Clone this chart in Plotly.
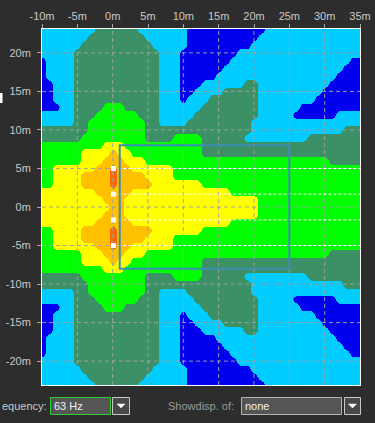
import plotly.graph_objects as go

# ---------------- data ----------------
x_cells = [-10, -9, -8, -7, -6, -5, -4, -3, -2, -1, 0, 1, 2, 3, 4, 5, 6, 7, 8, 9,
           10, 11, 12, 13, 14, 15, 16, 17, 18, 19, 20, 21, 22, 23, 24, 25, 26, 27,
           28, 29, 30, 31, 32, 33, 34, 35]
y_cells = [23, 22, 21, 20, 19, 18, 17, 16, 15, 14, 13, 12, 11, 10, 9, 8, 7, 6, 5, 4,
           3, 2, 1, 0, -1, -2, -3, -4, -5, -6, -7, -8, -9, -10, -11, -12, -13, -14,
           -15, -16, -17, -18, -19, -20, -21, -22, -23]

# SPL class per cell, run-length coded: letter = class, number = last x (m) of the run
map_rows = [
    "c-3 g3 c10 B21 c35",                    # 23
    "c-4 g4 c10 B20 c35",                    # 22
    "c-5 g5 c10 B19 c35",                    # 21
    "c-6 g6 c9 B17 c35",                     # 20
    "B-10 c-6 g6 c9 B16 c33 B35",            # 19
    "B-10 c-6 g6 c9 B15 c32 B35",            # 18
    "B-10 c-6 g6 c9 B14 c31 B35",            # 17
    "B-9 c-6 g6 c9 B12 c18 g20 c30 B35",     # 16
    "B-9 c-6 g6 c9 B11 c15 g20 c29 B35",     # 15
    "B-9 c-6 g6 c9 B10 c13 g20 c28 B35",     # 14
    "B-8 c-6 g-2 G1 g6 c12 g20 c26 B35",     # 13
    "c-6 g-3 G3 g6 c11 g20 c25 B31 c35",     # 12
    "c-6 g-4 G4 g6 c10 g19 c35",             # 11
    "g-4 G4 g19 c32 g35",                    # 10
    "g-5 G4 g8 G12 g18 c27 g35",             # 9
    "G-2 Y1 G12 g35",                        # 8
    "G-5 Y-1 o0 Y2 G12 g35",                 # 7
    "G-5 Y-2 o1 Y4 G30 g35",                 # 6
    "G-9 Y-3 o-1 r0 o2 Y8 G35",              # 5
    "G-9 Y-5 o-1 r0 o4 Y8 G35",              # 4
    "G-9 Y-5 o-1 r0 o5 Y12 G35",             # 3
    "Y-3 o2 Y16 G35",                        # 2
    "Y-2 o1 Y20 G35",                        # 1
    "Y-1 o1 Y20 G35",                        # 0
    "Y-2 o1 Y20 G35",                        # -1
    "Y-3 o2 Y16 G35",                        # -2
    "G-9 Y-5 o-1 r0 o5 Y12 G35",             # -3
    "G-9 Y-5 o-1 r0 o4 Y8 G35",              # -4
    "G-9 Y-3 o-1 r0 o2 Y8 G35",              # -5
    "G-5 Y-2 o1 Y4 G30 g35",                 # -6
    "G-5 Y-1 o0 Y2 G12 g35",                 # -7
    "G-2 Y1 G12 g35",                        # -8
    "g-5 G4 g8 G12 g18 c27 g35",             # -9
    "g-4 G4 g19 c32 g35",                    # -10
    "c-6 g-4 G4 g6 c10 g19 c35",             # -11
    "c-6 g-3 G3 g6 c11 g20 c25 B31 c35",     # -12
    "B-8 c-6 g-2 G1 g6 c12 g20 c26 B35",     # -13
    "B-9 c-6 g6 c9 B10 c13 g20 c28 B35",     # -14
    "B-9 c-6 g6 c9 B11 c15 g20 c29 B35",     # -15
    "B-9 c-6 g6 c9 B12 c18 g20 c30 B35",     # -16
    "B-10 c-6 g6 c9 B14 c31 B35",            # -17
    "B-10 c-6 g6 c9 B15 c32 B35",            # -18
    "B-10 c-6 g6 c9 B16 c33 B35",            # -19
    "c-6 g6 c9 B17 c35",                     # -20
    "c-5 g5 c10 B19 c35",                    # -21
    "c-4 g4 c10 B20 c35",                    # -22
    "c-3 g3 c10 B21 c35",                    # -23
]
level_codes = {"B": 0, "c": 1, "g": 2, "G": 3, "Y": 4, "o": 5, "r": 6}
level_colors = ["#0000EE", "#00CCFF", "#3C9066", "#00FF00", "#FFFF00", "#FFC000", "#FF6A00"]

x_ticks = [-10, -5, 0, 5, 10, 15, 20, 25, 30, 35]
x_tick_text = ["-10m", "-5m", "0m", "5m", "10m", "15m", "20m", "25m", "30m", "35m"]
y_ticks = [20, 15, 10, 5, 0, -5, -10, -15, -20]
y_tick_text = ["20m", "15m", "10m", "5m", "0m", "-5m", "-10m", "-15m", "-20m"]
x_range = [-10, 35]
y_range = [-23.1, 23.1]

speaker_x = [0.1, 0.1, 0.1, 0.1]
speaker_y = [5.0, 1.67, -1.67, -5.0]
area_x = [1.0, 25.0]
area_y = [-8.0, 8.0]

freq_label = "equency:"
freq_value = "63 Hz"
disp_label = "Showdisp. of:"
disp_value = "none"

# ---------------- build ----------------
def expand(row):
    vals = []
    for tok in row.split():
        code = level_codes[tok[0]]
        end = int(tok[1:])
        while len(vals) < len(x_cells) and x_cells[len(vals)] <= end:
            vals.append(code)
    assert len(vals) == len(x_cells), row
    return vals

z = [expand(r) for r in map_rows]
z_asc = z[::-1]
y_asc = y_cells[::-1]

n = len(level_colors)
colorscale = []
for i, c in enumerate(level_colors):
    colorscale.append([i / n, c])
    colorscale.append([(i + 1) / n, c])

fig = go.Figure()
fig.add_trace(go.Heatmap(
    x=x_cells, y=y_asc, z=z_asc, zsmooth="best",
    colorscale=colorscale, zmin=-0.5, zmax=n - 0.5,
    showscale=False, hoverinfo="skip"))

# dashed grid (drawn above the map)
gx, gy = [], []
for v in x_ticks:
    if x_range[0] < v < x_range[1]:
        gx += [v, v, None]
        gy += [y_range[0], y_range[1], None]
for v in y_ticks:
    gx += [x_range[0], x_range[1], None]
    gy += [v, v, None]
fig.add_trace(go.Scatter(x=gx, y=gy, mode="lines", hoverinfo="skip",
                         line=dict(color="rgba(160,160,160,0.95)", width=1, dash="4px,3px"),
                         showlegend=False))

# speaker aiming rays
rx, ry = [], []
for sx, sy in zip(speaker_x, speaker_y):
    rx += [sx, x_range[1], None]
    ry += [sy, sy, None]
fig.add_trace(go.Scatter(x=rx, y=ry, mode="lines", hoverinfo="skip",
                         line=dict(color="white", width=1, dash="3px,2px"),
                         showlegend=False))

fig.add_trace(go.Scatter(x=speaker_x, y=speaker_y, mode="markers", hoverinfo="skip",
                         marker=dict(symbol="square", size=5, color="white",
                                     line=dict(width=0)),
                         showlegend=False))

shapes = [dict(type="rect", xref="x", yref="y", x0=area_x[0], x1=area_x[1],
               y0=area_y[0], y1=area_y[1], line=dict(color="#3C8DB4", width=2),
               layer="above")]

# UI chrome below the plot (pixel helpers)
L, R, T, B = 42, 15, 29, 38
W, H = 375, 423
pw, ph = W - L - R, H - T - B
def px2x(px):
    return (px - L) / pw
def py2y(py):
    return (H - B - py) / ph

def rect(x0, x1, y0, y1, fill, line, lw=1):
    return dict(type="rect", xref="paper", yref="paper",
                x0=px2x(x0), x1=px2x(x1), y0=py2y(y1), y1=py2y(y0),
                fillcolor=fill, line=dict(color=line, width=lw), layer="above")

def tri(cx, cy):
    pts = [(cx - 4, cy - 2), (cx + 4, cy - 2), (cx, cy + 2)]
    path = "M " + " L ".join(f"{px2x(a)},{py2y(b)}" for a, b in pts) + " Z"
    return dict(type="path", xref="paper", yref="paper", path=path,
                fillcolor="white", line=dict(color="white", width=0.5), layer="above")

shapes += [
    rect(0, 2.5, 93, 103, "white", "white", 0),
    rect(50.5, 110.5, 397.5, 414.5, "#555555", "#33CC33"),
    rect(112.5, 129.5, 397.5, 414.5, "#484848", "#C8C8C8"),
    tri(121, 406),
    rect(241.5, 341.5, 397.5, 414.5, "#555555", "#B4B4B4"),
    rect(344.5, 360.5, 397.5, 414.5, "#484848", "#C8C8C8"),
    tri(352.5, 406),
]

font_family = "Liberation Sans, Arial, sans-serif"
annotations = [
    dict(text=freq_label, x=px2x(0.5), y=py2y(406), xanchor="left", yanchor="middle",
         borderpad=0, font=dict(family=font_family, size=11, color="#C8C8C8")),
    dict(text=freq_value, x=px2x(52), y=py2y(406), xanchor="left", yanchor="middle",
         font=dict(family=font_family, size=11, color="#F0F0F0")),
    dict(text=disp_label, x=px2x(166), y=py2y(406), xanchor="left", yanchor="middle",
         font=dict(family=font_family, size=11, color="#9A9A9A")),
    dict(text=disp_value, x=px2x(243), y=py2y(406), xanchor="left", yanchor="middle",
         font=dict(family=font_family, size=11, color="#F0F0F0")),
]
for a in annotations:
    a.update(xref="paper", yref="paper", showarrow=False)

axis_common = dict(showgrid=False, zeroline=False, showline=True, linecolor="white",
                   linewidth=1, mirror=True, ticks="outside", ticklen=4,
                   tickcolor="#A8A8A8", tickfont=dict(family=font_family, size=11,
                                                      color="#C8C8C8"),
                   automargin=False, fixedrange=True)

fig.update_layout(
    template="none",
    width=W, height=H,
    margin=dict(l=L, r=R, t=T, b=B, pad=0),
    paper_bgcolor="#2D2D2D", plot_bgcolor="#2D2D2D",
    showlegend=False,
    xaxis=dict(range=x_range, side="top", tickvals=x_ticks, ticktext=x_tick_text,
               **axis_common),
    yaxis=dict(range=y_range, tickvals=y_ticks, ticktext=y_tick_text,
               ticklabelstandoff=4, **axis_common),
    shapes=shapes,
    annotations=annotations,
)

fig.write_html("out.html", config={"displayModeBar": False, "staticPlot": True})
